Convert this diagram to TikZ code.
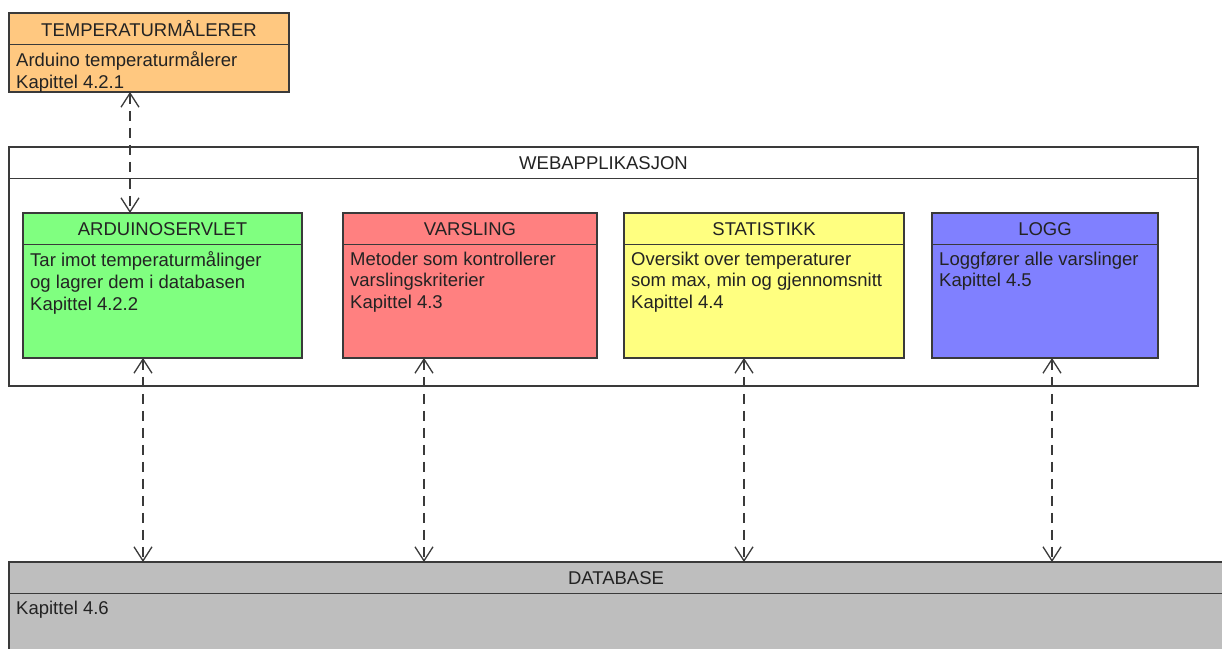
\documentclass[tikz,border=0pt]{standalone}
\usepackage{fontspec}
\setmainfont{Liberation Sans}
\usetikzlibrary{arrows.meta}

\definecolor{border}{RGB}{58,58,58}
\definecolor{ink}{RGB}{35,35,35}
\definecolor{orangefill}{RGB}{255,200,128}
\definecolor{greenfill}{RGB}{128,255,128}
\definecolor{redfill}{RGB}{255,128,128}
\definecolor{yellowfill}{RGB}{255,255,128}
\definecolor{bluefill}{RGB}{128,128,255}
\definecolor{grayfill}{RGB}{190,190,190}

\tikzset{
  classbox/.style={draw=border, line width=1.5pt, inner sep=0pt, outer sep=0pt, rectangle},
  divider/.style={draw=border, line width=1.5pt},
  headtext/.style={inner sep=0pt, text=ink, font=\fontsize{18.5}{21.7}\selectfont},
  bodytext/.style={inner sep=0pt, text=ink, align=left, font=\fontsize{18.5}{21.7}\selectfont},
  dep/.style={draw=border, line width=1.4pt, dash pattern=on 10pt off 7pt,
    arrows={Straight Barb[length=14pt,width=18pt,line width=1.3pt]-Straight Barb[length=14pt,width=18pt,line width=1.3pt]}}
}

% a box with a title compartment and a body compartment
% #1 name, #2 left, #3 top, #4 width, #5 height, #6 fill, #7 title, #8 body
\newcommand{\compbox}[8]{%
  \node[classbox, fill=#6, minimum width=#4pt, minimum height=#5pt, anchor=north west] (#1) at (#2,#3) {};
  \draw[divider] ([yshift=-31.5pt]#1.north west) -- ([yshift=-31.5pt]#1.north east);
  \node[headtext] (#1-title) at ([yshift=-16pt]#1.north) {#7};
  \node[bodytext, anchor=north west] (#1-body) at ([xshift=7pt,yshift=-38.5pt]#1.north west) {#8};
}

\begin{document}
\begin{tikzpicture}[x=1pt, y=-1pt]
  \useasboundingbox (0,0) rectangle (1222,648);
  \clip (0,0) rectangle (1222,648);
  \fill[white] (0,0) rectangle (1222,648);

  \compbox{temp}{9}{13}{280}{79}{orangefill}{TEMPERATURMÅLERER}{Arduino temperaturmålerer\\Kapittel 4.2.1}

  \compbox{web}{9}{147}{1189}{239}{white}{WEBAPPLIKASJON}{}

  \compbox{ardu}{23}{213}{279}{145}{greenfill}{ARDUINOSERVLET}{Tar imot temperaturmålinger\\og lagrer dem i databasen\\Kapittel 4.2.2}
  \compbox{vars}{343}{213}{254}{145}{redfill}{VARSLING}{Metoder som kontrollerer\\varslingskriterier\\Kapittel 4.3}
  \compbox{stat}{624}{213}{280}{145}{yellowfill}{STATISTIKK}{Oversikt over temperaturer\\som max, min og gjennomsnitt\\Kapittel 4.4}
  \compbox{logg}{932}{213}{226}{145}{bluefill}{LOGG}{Loggfører alle varslinger\\Kapittel 4.5}

  \compbox{db}{9}{562}{1214}{100}{grayfill}{DATABASE}{Kapittel 4.6}

  % x positions of the dependency lines
  \coordinate (xtemp) at (130,0);
  \coordinate (xardu) at (143,0);
  \coordinate (xvars) at (424,0);
  \coordinate (xstat) at (744,0);
  \coordinate (xlogg) at (1052,0);

  \draw[dep] (temp.south -| xtemp) -- (ardu.north -| xtemp);
  \draw[dep] (ardu.south -| xardu) -- (db.north -| xardu);
  \draw[dep] (vars.south -| xvars) -- (db.north -| xvars);
  \draw[dep] (stat.south -| xstat) -- (db.north -| xstat);
  \draw[dep] (logg.south -| xlogg) -- (db.north -| xlogg);
\end{tikzpicture}
\end{document}
